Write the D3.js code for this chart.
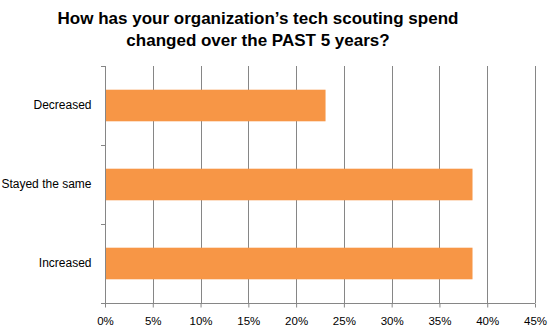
<!DOCTYPE html>
<html><head><meta charset="utf-8">
<script src="https://cdn.jsdelivr.net/npm/d3@7"></script>
<style>body{margin:0;background:#fff}svg{display:block}</style>
</head><body>
<svg id="c" width="558" height="336"></svg>
<script>
const categories = ["Decreased", "Stayed the same", "Increased"];
const values = [0.2308, 0.3846, 0.3846];
const tickValues = [0, 0.05, 0.10, 0.15, 0.20, 0.25, 0.30, 0.35, 0.40, 0.45];
const titleLines = ["How has your organization\u2019s tech scouting spend", "changed over the PAST 5 years?"];

const svg = d3.select("#c");
const m = {left:105, right:535, top:66, bottom:303};
const x = d3.scaleLinear().domain([0, 0.45]).range([m.left, m.right]);
const y = d3.scaleBand().domain(categories).range([m.top, m.bottom]).paddingInner(0.6).paddingOuter(0.3);
const yb = d3.scaleBand().domain(categories).range([m.top, m.bottom]);

svg.append("g").selectAll("text").data(titleLines).join("text")
  .attr("x", 258).attr("y", (d,i)=>24+i*22)
  .attr("text-anchor","middle")
  .style("font-family","Liberation Sans, Arial, sans-serif")
  .style("font-weight","bold").style("font-size","17px").attr("fill","#000")
  .text(d=>d);

// gridlines
svg.append("g").selectAll("line").data(tickValues.slice(1)).join("line")
  .attr("x1",d=>Math.round(x(d))+0.5).attr("x2",d=>Math.round(x(d))+0.5)
  .attr("y1",m.top).attr("y2",m.bottom)
  .attr("stroke","#868686").attr("stroke-width",1);

// bars
svg.append("g").selectAll("rect").data(categories).join("rect")
  .attr("x",x(0)).attr("y",d=>y(d))
  .attr("width",(d,i)=>x(values[i])-x(0)).attr("height",y.bandwidth())
  .attr("fill","#F79646");

// x axis
const xAxis = d3.axisBottom(x).tickValues(tickValues).tickFormat(d3.format(".0%")).tickSize(4).tickSizeOuter(0);
const gx = svg.append("g").attr("transform",`translate(0,${m.bottom+0.5})`).call(xAxis);
gx.select(".domain").attr("stroke","#868686").attr("d",`M${x(0)-4},0H${x(0.45)}`);
gx.selectAll(".tick line").attr("stroke","#868686");
gx.selectAll("text").attr("fill","#000").attr("y",21).attr("dy",null)
  .style("font-family","Liberation Sans, Arial, sans-serif").style("font-size","11.5px");

// y axis
const yAxis = d3.axisLeft(yb).tickSize(0);
const gy = svg.append("g").attr("transform",`translate(${m.left+0.5},0)`).call(yAxis);
gy.select(".domain").attr("stroke","#868686").attr("d",`M0,${m.top}V${m.bottom}`);
gy.selectAll("text").attr("fill","#000").attr("x",-14)
  .style("font-family","Liberation Sans, Arial, sans-serif").style("font-size","12px");
// category boundary ticks
const bounds = [m.top, ...categories.slice(1).map(c=>yb(c))];
svg.append("g").selectAll("line").data(bounds).join("line")
  .attr("x1",m.left-4).attr("x2",m.left).attr("y1",d=>Math.round(d)+0.5).attr("y2",d=>Math.round(d)+0.5)
  .attr("stroke","#868686");
</script>
</body></html>
